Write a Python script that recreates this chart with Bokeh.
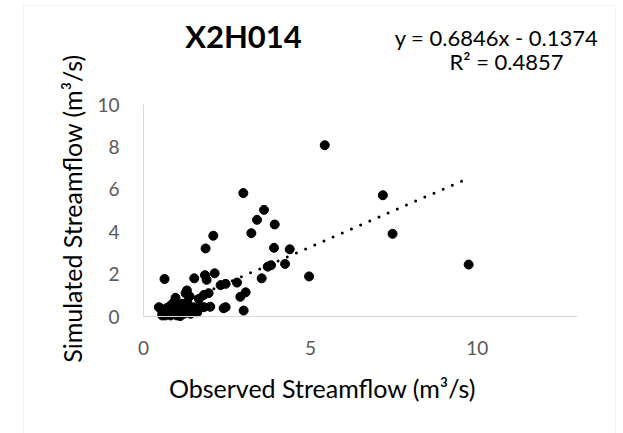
import numpy as np
from math import pi
from bokeh.plotting import figure
from bokeh.models import (Label, BoxAnnotation, FixedTicker, Range1d,
                          ColumnDataSource, LinearAxis)
from bokeh.embed import file_html
from bokeh.resources import INLINE

# ---- data ----
observed = [
    5.43, 2.99, 7.17, 3.61, 3.40, 3.93, 3.23, 7.46, 2.09, 1.86,
    3.91, 4.38, 9.74, 4.24, 4.96, 0.63, 1.52, 1.84, 2.13, 1.89,
    3.54, 3.82, 3.72, 2.31, 2.46, 2.80, 1.30, 1.81, 1.95, 3.06,
    2.90, 1.38, 0.96, 1.26, 2.40, 3.00, 2.00, 2.46,
    0.51, 0.46, 0.61, 0.71, 0.56, 0.81, 0.91, 0.81, 1.16, 1.31,
    1.01, 1.21, 1.10, 1.41, 1.61, 1.51, 1.71, 1.81, 1.66, 0.75,
    0.90, 1.00, 0.85, 1.00, 1.25, 1.35, 0.65, 0.95, 1.15, 0.70,
    1.45,
]
simulated = [
    8.08, 5.82, 5.72, 5.03, 4.56, 4.34, 3.93, 3.90, 3.81, 3.21,
    3.24, 3.17, 2.45, 2.48, 1.89, 1.77, 1.80, 1.95, 2.04, 1.73,
    1.80, 2.42, 2.35, 1.48, 1.54, 1.60, 1.23, 1.02, 1.10, 1.14,
    0.93, 0.95, 0.88, 1.10, 0.39, 0.28, 0.46, 0.44,
    0.38, 0.44, 0.28, 0.13, 0.05, 0.05, 0.67, 0.52, 0.60, 0.67,
    0.20, 0.13, 0.02, 0.13, 0.20, 0.44, 0.44, 0.44, 0.83, 0.30,
    0.35, 0.45, 0.10, 0.05, 0.30, 0.40, 0.05, 0.15, 0.35, 0.40,
    0.25,
]
slope = 0.6846
intercept = -0.1374
r_squared = 0.4857
x_ticks = [0, 5, 10]
y_ticks = [0, 2, 4, 6, 8, 10]
x_axis_max = 13
y_axis_max = 10
chart_title = "X2H014"
x_title = "Observed Streamflow (m³/s)"
y_title = "Simulated Streamflow (m³/s)"

FONT = "Lato"
W, H = 623, 433
# where the axes' 0 and max land on the page (pixels)
PX0, PX1 = 143, 577
PY0, PY1 = 316, 104

sx = (PX1 - PX0) / x_axis_max
sy = (PY0 - PY1) / y_axis_max
x_range = Range1d(-PX0 / sx, (W - PX0) / sx)
y_range = Range1d(-(H - PY0) / sy, PY0 / sy)

p = figure(width=W, height=H, output_backend="svg", toolbar_location=None,
           x_range=x_range, y_range=y_range,
           x_axis_location=None, y_axis_location=None,
           min_border=0)
p.outline_line_color = None
p.grid.visible = False

xaxis = LinearAxis(fixed_location=0, bounds=(0, x_axis_max),
                   ticker=FixedTicker(ticks=x_ticks))
yaxis = LinearAxis(fixed_location=0, bounds=(0, y_axis_max),
                   ticker=FixedTicker(ticks=y_ticks))
for ax in (xaxis, yaxis):
    ax.axis_line_color = "#d9d9d9"
    ax.axis_line_width = 1
    ax.major_tick_line_color = None
    ax.minor_tick_line_color = None
    ax.major_tick_out = 0
    ax.major_tick_in = 0
    ax.major_label_text_font = FONT
    ax.major_label_text_font_size = "19px"
    ax.major_label_text_color = "#595959"
xaxis.major_label_standoff = 24
yaxis.major_label_standoff = 24
p.add_layout(xaxis, "below")
p.add_layout(yaxis, "left")

def dx(px):
    return (px - PX0) / sx

def dy(py):
    return (PY0 - py) / sy

# outer chart border
p.add_layout(BoxAnnotation(left=dx(23), right=dx(615), top=dy(5), bottom=dy(480),
                           fill_alpha=0, line_color="#d9d9d9", line_width=1))

# trendline
xs = np.array([min(observed), max(observed)])
ys = slope * xs + intercept
p.line(xs, ys, line_color="black", line_width=3, line_dash="0 10", line_cap="round")

src = ColumnDataSource(dict(x=observed, y=simulated))
p.scatter("x", "y", source=src, size=9, fill_color="black", line_color="black")

def lab(px, py, text, size, **kw):
    p.add_layout(Label(x=dx(px), y=dy(py), text=text,
                       text_font=FONT, text_font_size=size, text_align="center",
                       text_baseline="middle", **kw))

lab(243, 35, chart_title, "31px", text_font_style="bold", text_color="black")
eq = f"y = {slope}x - {abs(intercept)}"
lab(496, 37, eq, "22px", text_color="black")
lab(506, 61, f"R² = {r_squared}", "22px", text_color="black")
lab(322, 387, x_title, "25px", text_color="black")
lab(71, 208, y_title, "25px", text_color="black", angle=pi/2)

open("out.html", "w").write(file_html(p, INLINE))
